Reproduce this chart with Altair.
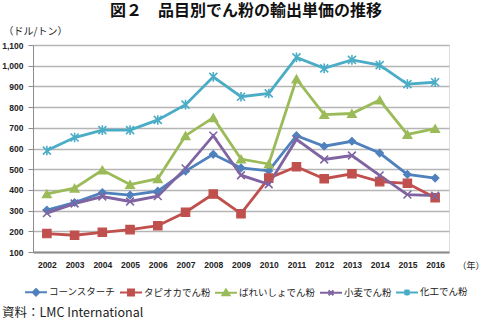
import altair as alt
import pandas as pd

years = [str(y) for y in range(2002, 2017)]
series = ["コーンスターチ", "タピオカでん粉", "ばれいしょでん粉", "小麦でん粉", "化工でん粉"]
colors = ["#4F81BD", "#C0504D", "#9BBB59", "#8064A2", "#4BACC6"]

corn = [302, 339, 387, 375, 394, 491, 572, 506, 492, 662, 611, 635, 578, 475, 457]
tapioca = [189, 181, 195, 208, 227, 292, 380, 285, 457, 512, 454, 478, 440, 432, 362]
potato = [381, 408, 496, 426, 454, 662, 749, 549, 525, 936, 764, 769, 834, 668, 696]
wheat = [288, 334, 368, 344, 370, 504, 662, 471, 427, 644, 547, 566, 470, 377, 372]
modified = [590, 653, 689, 689, 738, 812, 946, 850, 866, 1040, 987, 1028, 1003, 911, 920]

title_text = "図２　品目別でん粉の輸出単価の推移"
y_unit = "（ドル/トン）"
x_unit = "（年）"
source_text = "資料：LMC International"
y_ticks = list(range(100, 1101, 100))

values = [corn, tapioca, potato, wheat, modified]
rows = []
for name, vals in zip(series, values):
    for yr, v in zip(years, vals):
        rows.append({"year": yr, "series": name, "value": v})
df = pd.DataFrame(rows)

marker_shapes = [
    ("diamond", 56, True),
    ("square", 70, True),
    ("triangle-up", 80, True),
    ("M-1,-1L1,1M-1,1L1,-1", 60, False),
    ("M-1,-1L1,1M-1,1L1,-1M0,-1.2L0,1.2", 64, False),
]
legend_paths = [
    "M-1,0L1,0M0,-0.3L0.3,0L0,0.3L-0.3,0Z",
    "M-1,0L1,0M-0.27,-0.27L0.27,-0.27L0.27,0.27L-0.27,0.27Z",
    "M-1,0L1,0M0,-0.3L0.32,0.22L-0.32,0.22Z",
    "M-1,0L1,0M-0.22,-0.22L0.22,0.22M-0.22,0.22L0.22,-0.22",
    "M-1,0L1,0M-0.22,-0.22L0.22,0.22M-0.22,0.22L0.22,-0.22M0,-0.28L0,0.28",
]

FONT_JP = "Noto Sans CJK JP"
FONT_NUM = "Liberation Sans"

color_scale = alt.Scale(domain=series, range=colors)

x_enc = alt.X(
    "year:N",
    sort=years,
    scale=alt.Scale(paddingInner=0, paddingOuter=0.5),
    axis=alt.Axis(
        title=x_unit, titleAngle=0, titleX=424, titleY=13, titleAlign="left",
        titleBaseline="middle", titleFont=FONT_JP, titleFontSize=9,
        titleFontWeight="normal", titleColor="#222",
        labelAngle=0, labelFont=FONT_NUM, labelFontSize=8.5, labelFontWeight="bold",
        labelColor="#222", labelPadding=8, ticks=False, grid=False,
        domainColor="#8c8c8c", domainWidth=2,
    ),
)
y_enc = alt.Y(
    "value:Q",
    scale=alt.Scale(domain=[100, 1100], nice=False),
    axis=alt.Axis(
        values=y_ticks, format=",d", title=y_unit, titleAngle=0, titleX=-30,
        titleY=-14, titleAlign="left", titleBaseline="middle", titleFont=FONT_JP,
        titleFontSize=10, titleFontWeight="normal", titleColor="#222",
        labelFont=FONT_NUM, labelFontSize=8.5, labelFontWeight="bold",
        labelColor="#222", labelPadding=5, labelOverlap=False, tickSize=5,
        tickColor="#8c8c8c", domainColor="#8c8c8c", domainWidth=1, grid=True,
        gridColor="#b5b5b5", gridWidth=1.5,
    ),
)

base = alt.Chart(df)

leg = alt.Legend(
    orient="none", direction="horizontal", legendX=-9, legendY=235,
    title=None, padding=0, symbolSize=484, symbolStrokeWidth=2,
    labelFont=FONT_JP, labelFontSize=9.5, labelColor="#222",
    labelOffset=1, columnPadding=0, symbolOpacity=1,
)

# invisible layer whose only job is to carry the legend (line + marker symbols)
legend_layer = base.mark_point(filled=True, strokeWidth=2, opacity=0, size=484).encode(
    x=x_enc,
    y=y_enc,
    color=alt.Color("series:N", scale=color_scale, sort=series, legend=leg),
    stroke=alt.Stroke("series:N", scale=color_scale, sort=series, legend=leg),
    shape=alt.Shape("series:N", scale=alt.Scale(domain=series, range=legend_paths), sort=series, legend=leg),
)

lines = base.mark_line(strokeWidth=2.8).encode(
    x=x_enc,
    y=y_enc,
    color=alt.Color("series:N", scale=color_scale, sort=series, legend=None),
    detail="series:N",
)

point_layers = []
for name, col, (shp, sz, filled) in zip(series, colors, marker_shapes):
    if filled:
        mk = dict(shape=shp, size=sz, filled=True, fill=col, stroke=col, strokeWidth=1.2, opacity=1)
    else:
        mk = dict(shape=shp, size=sz, filled=False, stroke=col, strokeWidth=1.6, opacity=1)
    point_layers.append(
        base.transform_filter(alt.datum.series == name).mark_point(**mk).encode(x=x_enc, y=y_enc)
    )

title = alt.Chart(pd.DataFrame({"t": [title_text]})).mark_text(
    align="center", baseline="middle", font=FONT_JP, fontSize=16, fontWeight="bold", color="#111"
).encode(x=alt.value(213), y=alt.value(-34), text="t:N")

source = alt.Chart(pd.DataFrame({"t": [source_text]})).mark_text(
    align="left", baseline="middle", font=FONT_JP, fontSize=12.5, color="#222"
).encode(x=alt.value(-31), y=alt.value(268), text="t:N")

chart = alt.layer(legend_layer, lines, *point_layers, title, source).properties(
    width=416,
    height=207,
    autosize=alt.AutoSizeParams(type="none"),
    padding={"left": 33, "top": 45, "right": 36, "bottom": 69},
).configure_view(stroke=None).configure(background="white")

chart.save("out.html", embed_options={"renderer": "svg", "actions": False})
